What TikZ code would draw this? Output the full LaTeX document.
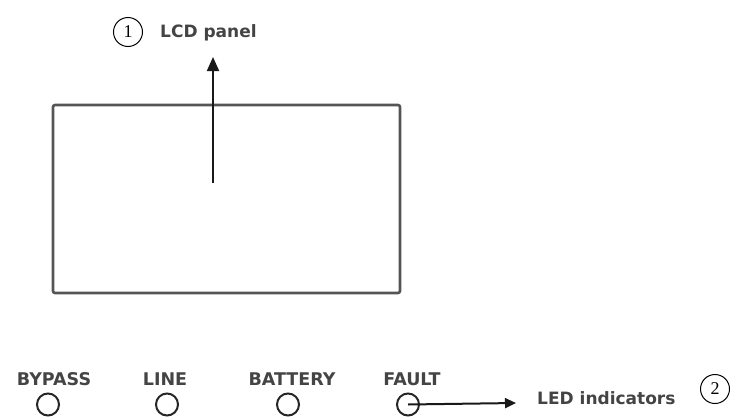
\documentclass[tikz,border=0pt]{standalone}
\usepackage{fontspec}
\usepackage{tikz}
\usepackage{xcolor}
\usetikzlibrary{positioning,arrows.meta}
\setmainfont{DejaVu Sans}
\newfontfamily\numfont{Liberation Serif}
\definecolor{ink}{HTML}{444444}
\definecolor{frame}{HTML}{555555}

\begin{document}
\begin{tikzpicture}[x=1pt,y=-1pt,every node/.style={text=ink}]
    \tikzstyle{panel}=[draw=frame,line width=2.6pt,rounded corners=2pt,
                   minimum width=347pt,minimum height=188pt,inner sep=0pt];
    \tikzstyle{num}=[draw=black,circle,line width=1pt,minimum size=29pt,inner sep=0pt,
                   font=\numfont\fontsize{18}{20}\selectfont,text=black];
    \tikzstyle{txt}=[anchor=base west,inner sep=0pt,font=\bfseries\fontsize{17}{20}\selectfont];
    \tikzstyle{lbl}=[anchor=base,inner sep=0pt,font=\bfseries\fontsize{17.5}{20}\selectfont];
    \tikzstyle{led}=[draw=black!85,circle,line width=2pt,minimum size=22pt,inner sep=0pt];
    \useasboundingbox (0,0) rectangle (731,418);

    \node[panel] (lcd) at (226.5,199) {};
    \coordinate (lcdin)  at (213,183);
    \coordinate (lcdtip) at (213,57);
    \node[num] (n1) at (128,32) {1};
    \node[txt] (lcdtxt) at (160,37) {LCD panel};

    \node[lbl] (byp) at (54,385)  {BYPASS};
    \node[lbl] (lin) at (165,385) {LINE};
    \node[lbl] (bat) at (292,385) {BATTERY};
    \node[lbl] (flt) at (412,385) {FAULT};
    \node[led] (l1) at (48,404.5)  {};
    \node[led] (l2) at (167,404.5) {};
    \node[led] (l3) at (288,404.5) {};
    \node[led] (l4) at (408,404.5) {};
    \coordinate (ledtip) at (516,403);
    \node[txt] (ledtxt) at (537,404) {LED indicators};
    \node[num] (n2) at (715,389) {2};

    \draw[-{Triangle[length=14pt,width=12pt]},line width=2pt,black!90] (lcdin) -- (lcdtip);
    \draw[-{Triangle[length=11pt,width=10pt]},line width=2pt,black!90] (l4.center) -- (ledtip);
  \end{tikzpicture}
\end{document}
